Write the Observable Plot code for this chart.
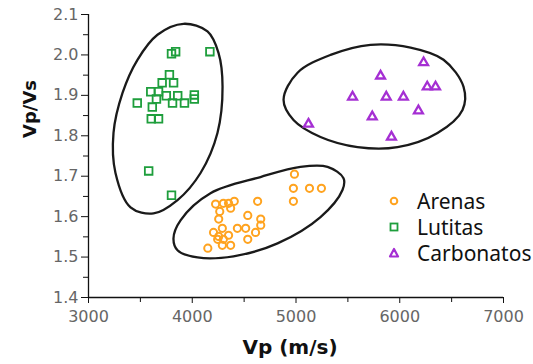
<!DOCTYPE html>
<html>
<head>
<meta charset="utf-8">
<script src="https://cdn.jsdelivr.net/npm/d3@7"></script>
<script src="https://cdn.jsdelivr.net/npm/@observablehq/plot@0.6"></script>
<style>
  html, body { margin: 0; padding: 0; background: #fff; }
  #wrap { position: relative; width: 533px; height: 364px; }
  #wrap svg { display: block; }
  #legend { position: absolute; left: 388px; top: 188px; font-family: "Noto Sans", sans-serif; font-size: 21px; color: #111; }
  #legend .row { display: flex; align-items: center; height: 26px; }
  #legend svg { margin-right: 17px; }
</style>
</head>
<body>
<div id="wrap"></div>
<script>
// --- Data ---
const xTicks = [3000, 4000, 5000, 6000, 7000];
const xMinor = [3500, 4500, 5500, 6500];
const yTicks = [1.4, 1.5, 1.6, 1.7, 1.8, 1.9, 2.0, 2.1];
const yMinor = [1.45, 1.55, 1.65, 1.75, 1.85, 1.95, 2.05];

const seriesNames = ["Arenas", "Lutitas", "Carbonatos"];
const seriesColors = ["#ffa31f", "#1e9e3c", "#a52fd3"];

const arenasVp   = [4985, 4975, 5130, 5245, 4975, 4630, 4405, 4225, 4300, 4350, 4370, 4265, 4535, 4660, 4255, 4660, 4435, 4515, 4290, 4205, 4610, 4350, 4255, 4245, 4300, 4535, 4290, 4370, 4150];
const arenasVpVs = [1.705, 1.67, 1.67, 1.67, 1.638, 1.638, 1.638, 1.631, 1.633, 1.633, 1.621, 1.613, 1.603, 1.594, 1.594, 1.579, 1.571, 1.571, 1.571, 1.561, 1.561, 1.554, 1.551, 1.544, 1.544, 1.544, 1.529, 1.529, 1.522];

const lutitasVp   = [3800, 3840, 4170, 3780, 3710, 3820, 3600, 3675, 3750, 3860, 4020, 3655, 3470, 3810, 3925, 4020, 3615, 3605, 3675, 3580, 3800];
const lutitasVpVs = [2.003, 2.008, 2.008, 1.951, 1.931, 1.931, 1.909, 1.909, 1.899, 1.899, 1.901, 1.891, 1.881, 1.881, 1.881, 1.891, 1.871, 1.842, 1.842, 1.713, 1.653];

const carbVp   = [6230, 5815, 6265, 6345, 5545, 5870, 6035, 6180, 5735, 5120, 5920];
const carbVpVs = [1.981, 1.948, 1.921, 1.921, 1.896, 1.896, 1.896, 1.862, 1.847, 1.829, 1.797];

// Hand-drawn enclosing curves (outline points)
const lutitasHullVp   = [3916, 4147, 4253, 4292, 4243, 4080, 3858, 3627, 3405, 3260, 3241, 3328, 3472, 3665];
const lutitasHullVpVs = [2.077, 2.058, 2.005, 1.921, 1.807, 1.708, 1.641, 1.608, 1.623, 1.708, 1.807, 1.906, 1.988, 2.050];
const arenasHullVp    = [3819, 3887, 4176, 4658, 5043, 5304, 5458, 5448, 5236, 4822, 4398, 4051, 3858];
const arenasHullVpVs  = [1.546, 1.591, 1.658, 1.698, 1.723, 1.723, 1.695, 1.666, 1.599, 1.534, 1.502, 1.499, 1.517];
const carbHullVp      = [4880, 5015, 5333, 5718, 6104, 6422, 6615, 6605, 6364, 5979, 5593, 5236, 4976];
const carbHullVpVs    = [1.889, 1.956, 2.000, 2.025, 2.018, 1.988, 1.921, 1.864, 1.807, 1.772, 1.772, 1.797, 1.839];

// --- Build tables ---
const toRows = (xs, ys, g) => xs.map((x, i) => ({vp: x, ratio: ys[i], g}));
const arenas = toRows(arenasVp, arenasVpVs, "Arenas");
const lutitas = toRows(lutitasVp, lutitasVpVs, "Lutitas");
const carb = toRows(carbVp, carbVpVs, "Carbonatos");
const hulls = [
  ...toRows(lutitasHullVp, lutitasHullVpVs, "L"),
  ...toRows(arenasHullVp, arenasHullVpVs, "A"),
  ...toRows(carbHullVp, carbHullVpVs, "C")
];

const chart = Plot.plot({
  width: 533,
  height: 364,
  marginLeft: 88,
  marginRight: 30,
  marginTop: 14,
  marginBottom: 67,
  x: {domain: [3000, 7000]},
  y: {domain: [1.4, 2.1]},
  style: {fontFamily: "DejaVu Sans", fontSize: "16px", background: "#fff"},
  marks: [
    Plot.line(hulls, {x: "vp", y: "ratio", z: "g", curve: "catmull-rom-closed", stroke: "#1a1a1a", strokeWidth: 2.3}),
    Plot.dot(arenas, {x: "vp", y: "ratio", r: 3.6, stroke: seriesColors[0], strokeWidth: 2, fill: "none"}),
    Plot.dot(lutitas, {x: "vp", y: "ratio", symbol: "square", r: 4.3, stroke: seriesColors[1], strokeWidth: 1.8, fill: "none"}),
    Plot.dot(carb, {x: "vp", y: "ratio", symbol: "triangle", r: 3.3, stroke: seriesColors[2], strokeWidth: 2.3, fill: "none"}),
    Plot.axisX(xTicks, {tickSize: 6, tickPadding: 7, tickFormat: d => String(d), fill: "#666", stroke: "#111", label: null}),
    Plot.axisX(xMinor, {tickSize: 5, tickFormat: () => "", stroke: "#111", label: null}),
    Plot.axisY(yTicks, {tickSize: 7, tickPadding: 3, tickFormat: d => d.toFixed(1), fill: "#666", stroke: "#111", label: null}),
    Plot.axisY(yMinor, {tickSize: 5, tickFormat: () => "", stroke: "#111", label: null}),
    Plot.ruleY([1.4], {stroke: "#111", strokeWidth: 1.3}),
    Plot.ruleX([3000], {stroke: "#111", strokeWidth: 1.3}),
    Plot.text(["Vp (m/s)"], {frameAnchor: "bottom", dx: -6, dy: 56, fontWeight: "bold", fontSize: 20, fill: "#111", text: d => d}),
    Plot.text(["Vp/Vs"], {frameAnchor: "left", dx: -58, dy: -18, rotate: -90, fontWeight: "bold", fontSize: 18, fill: "#111", text: d => d})
  ]
});
document.getElementById("wrap").appendChild(chart);

// --- Legend (HTML overlay) ---
const legend = document.createElement("div");
legend.id = "legend";
const symbols = [
  c => `<circle cx="6" cy="6" r="3.3" fill="none" stroke="${c}" stroke-width="2"/>`,
  c => `<rect x="2.5" y="2.5" width="7" height="7" fill="none" stroke="${c}" stroke-width="1.8"/>`,
  c => `<path d="M6 2 L10 9.5 L2 9.5 Z" fill="none" stroke="${c}" stroke-width="2.2" stroke-linejoin="round"/>`
];
seriesNames.forEach((name, i) => {
  const row = document.createElement("div");
  row.className = "row";
  row.innerHTML = `<svg width="12" height="12">${symbols[i](seriesColors[i])}</svg><span>${name}</span>`;
  legend.appendChild(row);
});
document.getElementById("wrap").appendChild(legend);
</script>
</body>
</html>
